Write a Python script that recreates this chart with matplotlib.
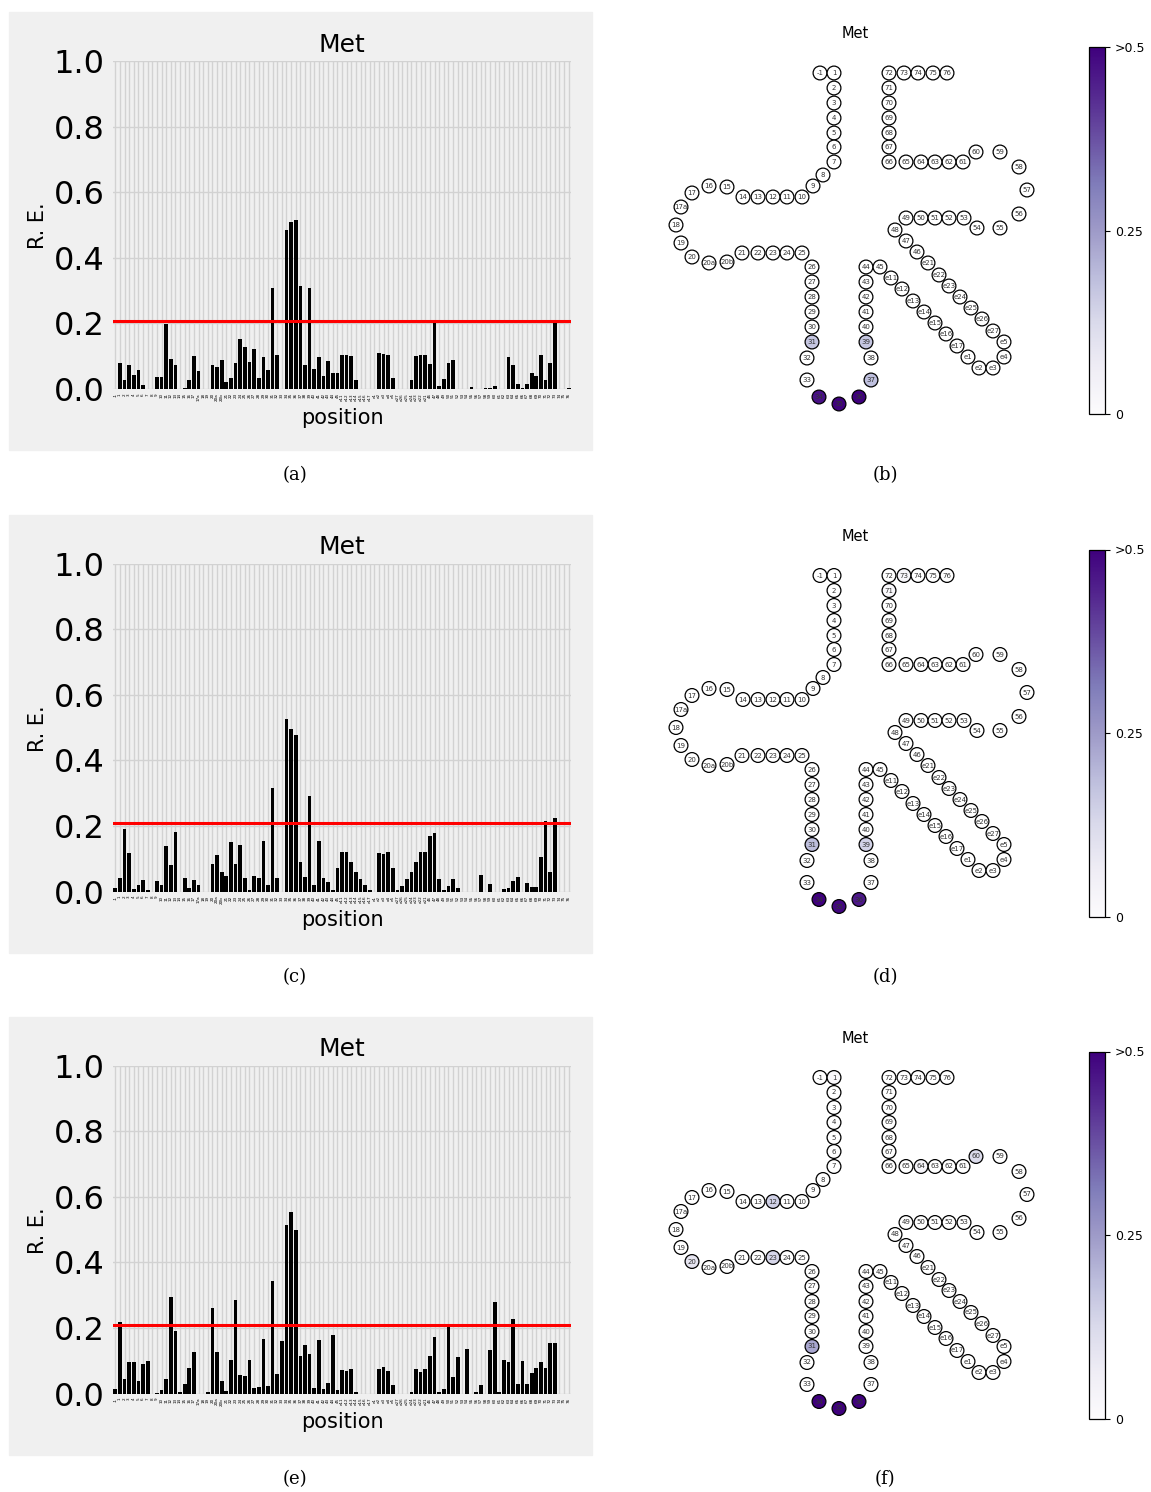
import matplotlib
matplotlib.use('Agg')
import matplotlib.pyplot as plt
from matplotlib.patches import Circle, Rectangle
from matplotlib.colors import Normalize
from matplotlib.cm import ScalarMappable
import numpy as np

W, H = 1151, 1492

# tRNA positions, in the order used on the bar charts
positions = (['-1'] + [str(i) for i in range(1, 18)] + ['17a', '18', '19', '20', '20a', '20b']
             + [str(i) for i in range(21, 46)]
             + ['e11', 'e12', 'e13', 'e14', 'e15', 'e16', 'e17', 'e1', 'e2', 'e3', 'e4', 'e5',
                'e27', 'e26', 'e25', 'e24', 'e23', 'e22', 'e21']
             + [str(i) for i in range(46, 77)])

re_a = [0, 0.078, 0.028, 0.073, 0.043, 0.058, 0.012, 0, 0, 0.038,
        0.036, 0.198, 0.090, 0.072, 0, 0.002, 0.027, 0.100, 0.055, 0,
        0, 0.072, 0.068, 0.088, 0.022, 0.035, 0.080, 0.152, 0.128, 0.082,
        0.122, 0.035, 0.098, 0.058, 0.307, 0.104, 0, 0.484, 0.510, 0.515,
        0.313, 0.073, 0.307, 0.060, 0.097, 0.041, 0.085, 0.049, 0.050, 0.104,
        0.104, 0.100, 0.026, 0, 0, 0, 0, 0.109, 0.107, 0.104,
        0.035, 0, 0, 0, 0.026, 0.100, 0.104, 0.104, 0.075, 0.200,
        0.008, 0.031, 0.078, 0.088, 0, 0, 0, 0.006, 0, 0,
        0.002, 0.002, 0.009, 0, 0, 0.098, 0.073, 0.016, 0.002, 0.014,
        0.048, 0.039, 0.104, 0.027, 0.078, 0.204, 0, 0, 0.002]

re_c = [0.011, 0.040, 0.190, 0.116, 0.007, 0.019, 0.034, 0.004, 0, 0.031,
        0.021, 0.139, 0.082, 0.180, 0, 0.041, 0.011, 0.036, 0.019, 0,
        0, 0.083, 0.110, 0.058, 0.046, 0.150, 0.085, 0.141, 0.041, 0.004,
        0.047, 0.041, 0.153, 0.021, 0.317, 0.040, 0, 0.527, 0.494, 0.477,
        0.089, 0.043, 0.291, 0.021, 0.155, 0.041, 0.028, 0.006, 0.071, 0.120,
        0.120, 0.089, 0.058, 0.038, 0.019, 0.004, 0, 0.116, 0.114, 0.120,
        0.073, 0.004, 0.018, 0.038, 0.058, 0.089, 0.120, 0.120, 0.168, 0.178,
        0.038, 0.006, 0.018, 0.037, 0.010, 0, 0, 0, 0, 0.051,
        0, 0.024, 0, 0, 0.009, 0.010, 0.031, 0.044, 0, 0.026,
        0.014, 0.015, 0.104, 0.214, 0.059, 0.225, 0, 0, 0]

re_e = [0.013, 0.217, 0.045, 0.096, 0.097, 0.038, 0.091, 0.099, 0, 0.001,
        0.011, 0.044, 0.294, 0.192, 0.004, 0.029, 0.078, 0.127, 0, 0,
        0.006, 0.261, 0.127, 0.038, 0.008, 0.101, 0.286, 0.056, 0.053, 0.102,
        0.016, 0.019, 0.165, 0.023, 0.342, 0.059, 0.161, 0.514, 0.554, 0.498,
        0.115, 0.149, 0.119, 0.017, 0.162, 0.013, 0.031, 0.178, 0.010, 0.072,
        0.069, 0.074, 0.005, 0, 0, 0, 0, 0.076, 0.081, 0.068,
        0.025, 0, 0, 0, 0.005, 0.074, 0.065, 0.074, 0.114, 0.172,
        0.005, 0.013, 0.202, 0.050, 0.111, 0, 0.135, 0, 0.004, 0.026,
        0, 0.132, 0.278, 0.004, 0.102, 0.096, 0.227, 0.029, 0.098, 0.028,
        0.063, 0.077, 0.095, 0.079, 0.154, 0.153, 0, 0, 0]

threshold = 0.208
cmax = 0.5

# cloverleaf layout, same order as positions (pixel-like units, y down)
clover_x = [820, 834, 834, 834, 834, 834, 834, 834, 823, 813,
            802, 787, 773, 758, 743, 727, 709, 692, 681, 676,
            681, 692, 709, 727, 742, 758, 773, 787, 802, 812,
            812, 812, 812, 812, 812, 807, 807, 819, 839, 859,
            871, 871, 866, 866, 866, 866, 866, 866, 880,
            891, 902, 913, 924, 935, 946, 957,
            968, 979, 993, 1004, 1004,
            993, 982, 971, 960, 949, 939, 928,
            917, 906, 895, 906, 921, 935, 949, 964, 977, 1000,
            1019, 1027, 1019, 1000, 976, 963, 949, 935, 921, 906,
            889, 889, 889, 889, 889, 889, 889, 904, 918, 933, 947]
clover_y = [73, 73, 88, 103, 118, 133, 147, 162, 175, 186,
            197, 197, 197, 197, 197, 187, 186, 193, 207, 225,
            243, 257, 263, 262, 253, 253, 253, 253, 253, 267,
            282, 297, 312, 327, 342, 358, 380, 397, 404, 397,
            380, 358, 342, 327, 312, 297, 282, 267, 267,
            278, 289, 301, 312, 323, 334, 346,
            357, 368, 368, 357, 342,
            331, 319, 308, 297, 286, 275, 263,
            252, 241, 230, 218, 218, 218, 218, 218, 228, 228,
            214, 190, 167, 152, 152, 162, 162, 162, 162, 162,
            162, 147, 133, 118, 103, 88, 73, 73, 73, 73, 73]

cmap = plt.get_cmap('Purples')


def px_rect(x0, y0, x1, y1):
    return [x0 / W, 1 - y1 / H, (x1 - x0) / W, (y1 - y0) / H]


fig = plt.figure(figsize=(W / 100, H / 100), dpi=100)
fig.patch.set_facecolor('white')


def bar_panel(s, values):
    # grey background of the saved subfigure
    fig.add_artist(Rectangle((9 / W, 1 - (450 + s) / H), 583 / W, 438 / H,
                             transform=fig.transFigure, color='#f0f0f0', zorder=-5))
    ax = fig.add_axes(px_rect(113, 61 + s, 571, 389 + s))
    ax.set_facecolor('#f0f0f0')
    ind = np.arange(len(positions))
    ax.bar(ind, values, 0.8, color='black', zorder=2)
    ax.axhline(threshold, color='red', lw=2.2, zorder=3)
    ax.set_xlim(-0.5, len(positions) - 0.5)
    ax.set_ylim(0, 1.0)
    ax.set_xticks(ind)
    ax.set_xticklabels(positions, rotation=90, fontsize=3)
    ax.set_yticks(np.arange(0, 1.01, 0.2))
    ax.set_yticklabels(['%.1f' % v for v in np.arange(0, 1.01, 0.2)], fontsize=23)
    ax.tick_params(axis='x', length=0, pad=3)
    ax.tick_params(axis='y', length=0, pad=6)
    ax.grid(True, color='#d2d2d2', lw=1)
    ax.set_axisbelow(True)
    for sp in ax.spines.values():
        sp.set_visible(False)
    ax.set_title('Met', fontsize=18, pad=6.5)
    fig.text(342 / W, 1 - (418 + s) / H, 'position', fontsize=15, ha='center', va='center')
    fig.text(38 / W, 1 - (226 + s) / H, 'R. E.', fontsize=15, ha='center', va='center',
             rotation=90)


def clover_panel(s, values):
    ax = fig.add_axes(px_rect(650, 50 + s, 1050, 420 + s))
    ax.set_xlim(650, 1050)
    ax.set_ylim(420, 50)
    ax.axis('off')
    for lab, x, y, v in zip(positions, clover_x, clover_y, values):
        if v > threshold:
            c = cmap(min((v - threshold) / (cmax - threshold), 1.0))
        else:
            c = 'white'
        ax.add_patch(Circle((x, y), 6.9, fc=c, ec='black', lw=0.9))
        ax.text(x, y, lab, fontsize=5, ha='center', va='center', color='#333333')
    fig.text(855 / W, 1 - (34 + s) / H, 'Met', fontsize=10.5, ha='center', va='center')
    cax = fig.add_axes(px_rect(1089, 47 + s, 1105, 414 + s))
    cb = fig.colorbar(ScalarMappable(norm=Normalize(0, cmax), cmap=cmap), cax=cax,
                      ticks=[0, 0.25, 0.5])
    cb.ax.set_yticklabels(['0', '0.25', '>0.5'])
    cb.ax.tick_params(labelsize=9, length=3.5, width=0.8)
    cb.outline.set_linewidth(0.9)


shifts = [0, 502.5, 1004.5]
series = [re_a, re_c, re_e]
caps = [('(a)', '(b)'), ('(c)', '(d)'), ('(e)', '(f)')]
for s, vals, (c1, c2) in zip(shifts, series, caps):
    bar_panel(s, vals)
    clover_panel(s, vals)
    fig.text(295 / W, 1 - (475 + s) / H, c1, fontsize=13, family='DejaVu Serif',
             ha='center', va='center')
    fig.text(885 / W, 1 - (475 + s) / H, c2, fontsize=13, family='DejaVu Serif',
             ha='center', va='center')

fig.savefig('out.png', dpi=100)
